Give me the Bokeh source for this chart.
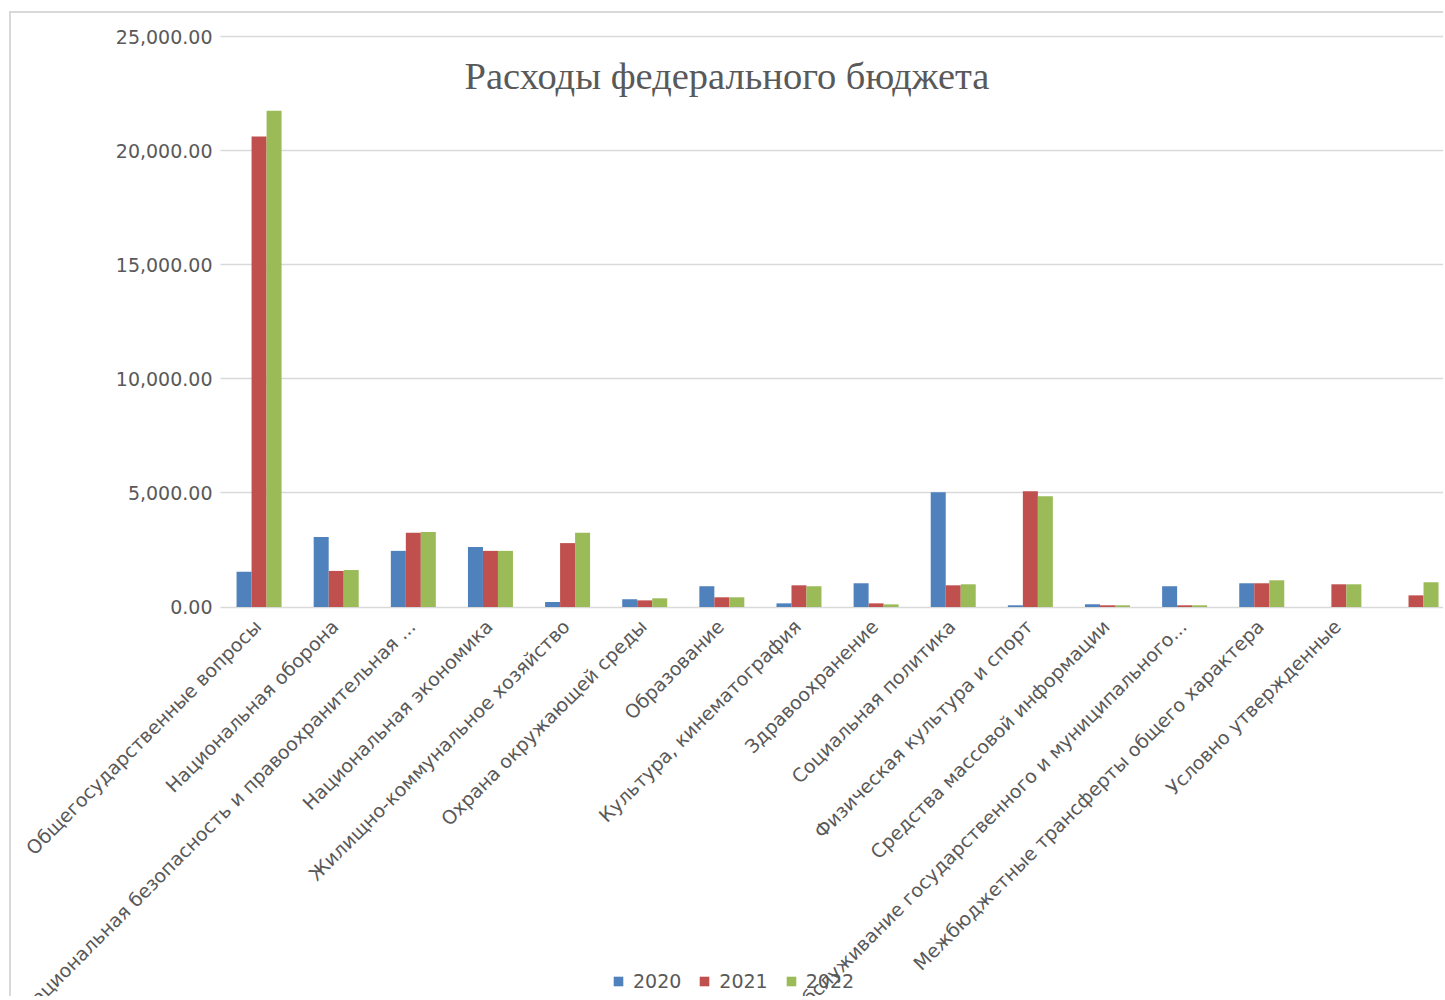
import math
from bokeh.plotting import figure
from bokeh.models import (ColumnDataSource, Range1d, FixedTicker, NumeralTickFormatter,
                          Legend, LegendItem, Label)
from bokeh.transform import dodge
from bokeh.embed import file_html
from bokeh.resources import INLINE

categories = [
    "Общегосударственные вопросы",
    "Национальная оборона",
    "Национальная безопасность и правоохранительная ...",
    "Национальная экономика",
    "Жилищно-коммунальное хозяйство",
    "Охрана окружающей среды",
    "Образование",
    "Культура, кинематография",
    "Здравоохранение",
    "Социальная политика",
    "Физическая культура и спорт",
    "Средства массовой информации",
    "Обслуживание государственного и муниципального...",
    "Межбюджетные трансферты общего характера",
    "Условно утвержденные",
    "",
]
years = ["2020", "2021", "2022"]
y2020 = [1550, 3070, 2460, 2630, 220, 340, 910, 160, 1040, 5030, 75, 120, 910, 1040, 0, 0]
y2021 = [20620, 1580, 3250, 2460, 2800, 290, 425, 950, 160, 950, 5070, 75, 75, 1040, 995, 510]
y2022 = [21750, 1620, 3290, 2460, 3250, 380, 425, 910, 115, 995, 4850, 75, 75, 1170, 995, 1085]
y_ticks = [0, 5000, 10000, 15000, 20000, 25000]
title_text = "Расходы федерального бюджета"

colors = ["#4F81BD", "#C0504D", "#9BBB59"]
text_color = "#595959"
grid_color = "#d9d9d9"
font = "DejaVu Sans"

# layout (page pixels)
off_x, off_y = 11, 13          # canvas origin on page (margin + border)
W, H = 1445 - off_x, 1000 - off_y - 2
frame_left_page = 220          # where the category axis starts
zero_page = 606.5
px_per_unit = 570.5 / 25000
cat_px = 77.13

x_start = -(frame_left_page - off_x) / cat_px
x_end = (off_x + W - frame_left_page) / cat_px
y_end = (zero_page - off_y) / px_per_unit
y_start = -(off_y + H - zero_page) / px_per_unit

xs = [i + 0.5 for i in range(len(categories))]
src = ColumnDataSource(dict(x=xs, y2020=y2020, y2021=y2021, y2022=y2022))

p = figure(width=W, height=H, output_backend="svg", toolbar_location=None,
           x_range=Range1d(x_start, x_end), y_range=Range1d(y_start, y_end),
           min_border_left=0, min_border_top=0, min_border_bottom=0,
           min_border_right=0, tools="")
p.styles = {"margin-left": "9px", "margin-top": "11px",
            "border-left": "2px solid #d9d9d9", "border-top": "2px solid #d9d9d9"}
p.outline_line_color = None
p.background_fill_color = "white"
p.border_fill_color = "white"

# value grid lines, spanning the category area only
grid = p.ygrid[0]
p.xgrid.grid_line_color = None
if hasattr(grid, "cross_bounds"):
    grid.ticker = FixedTicker(ticks=y_ticks)
    grid.cross_bounds = (0, x_end)
    grid.grid_line_color = grid_color
    grid.grid_line_width = 1.5
else:
    grid.grid_line_color = None
    p.segment(x0=[0] * len(y_ticks), x1=[x_end] * len(y_ticks), y0=y_ticks, y1=y_ticks,
              line_color=grid_color, line_width=1.5)

bw = 15 / cat_px
renderers = []
for k, (yr, col) in enumerate(zip(years, colors)):
    r = p.vbar(x=dodge("x", (k - 1) * bw, range=p.x_range), top="y" + yr, width=bw,
               source=src, fill_color=col, line_color=None)
    renderers.append(r)

# category axis drawn at value 0, labels rotated and ending at each category
label_pos = [x - 1.5 / cat_px for x in xs]
p.xaxis.fixed_location = 0
p.xaxis.ticker = FixedTicker(ticks=label_pos)
p.xaxis.major_label_overrides = {x: c for x, c in zip(label_pos, categories)}
p.xaxis.major_label_orientation = math.pi / 4
p.xaxis.major_label_text_font = font
p.xaxis.major_label_text_font_size = "19px"
p.xaxis.major_label_text_color = text_color
p.xaxis.major_tick_line_color = None
p.xaxis.minor_tick_line_color = None
p.xaxis.major_tick_out = 0
p.xaxis.major_tick_in = 0
p.xaxis.major_label_standoff = 16
p.xaxis.axis_line_color = None

# value axis drawn at the start of the category area
p.yaxis.fixed_location = 0
p.yaxis.ticker = FixedTicker(ticks=y_ticks)
p.yaxis.formatter = NumeralTickFormatter(format="0,0.00")
p.yaxis.major_label_text_font = font
p.yaxis.major_label_text_font_size = "19px"
p.yaxis.major_label_text_color = text_color
p.yaxis.axis_line_color = None
p.yaxis.major_tick_line_color = None
p.yaxis.minor_tick_line_color = None
p.yaxis.major_tick_out = 0
p.yaxis.major_tick_in = 0
p.yaxis.major_label_standoff = 8

p.add_layout(Label(x=(726.5 - frame_left_page) / cat_px,
                   y=(zero_page - 75) / px_per_unit, text=title_text,
                   text_font="Liberation Serif", text_font_size="38.5px",
                   text_color=text_color, text_align="center", text_baseline="middle"))

legend = Legend(items=[LegendItem(label=yr, renderers=[r]) for yr, r in zip(years, renderers)],
                orientation="horizontal", location=(612 - off_x, 6),
                glyph_width=12, glyph_height=12, label_standoff=9, spacing=17,
                label_height=20, padding=0, margin=0, border_line_color=None,
                background_fill_alpha=0,
                label_text_font=font, label_text_font_size="19px",
                label_text_color=text_color)
p.add_layout(legend, "center")

open("out.html", "w").write(file_html(p, INLINE))
